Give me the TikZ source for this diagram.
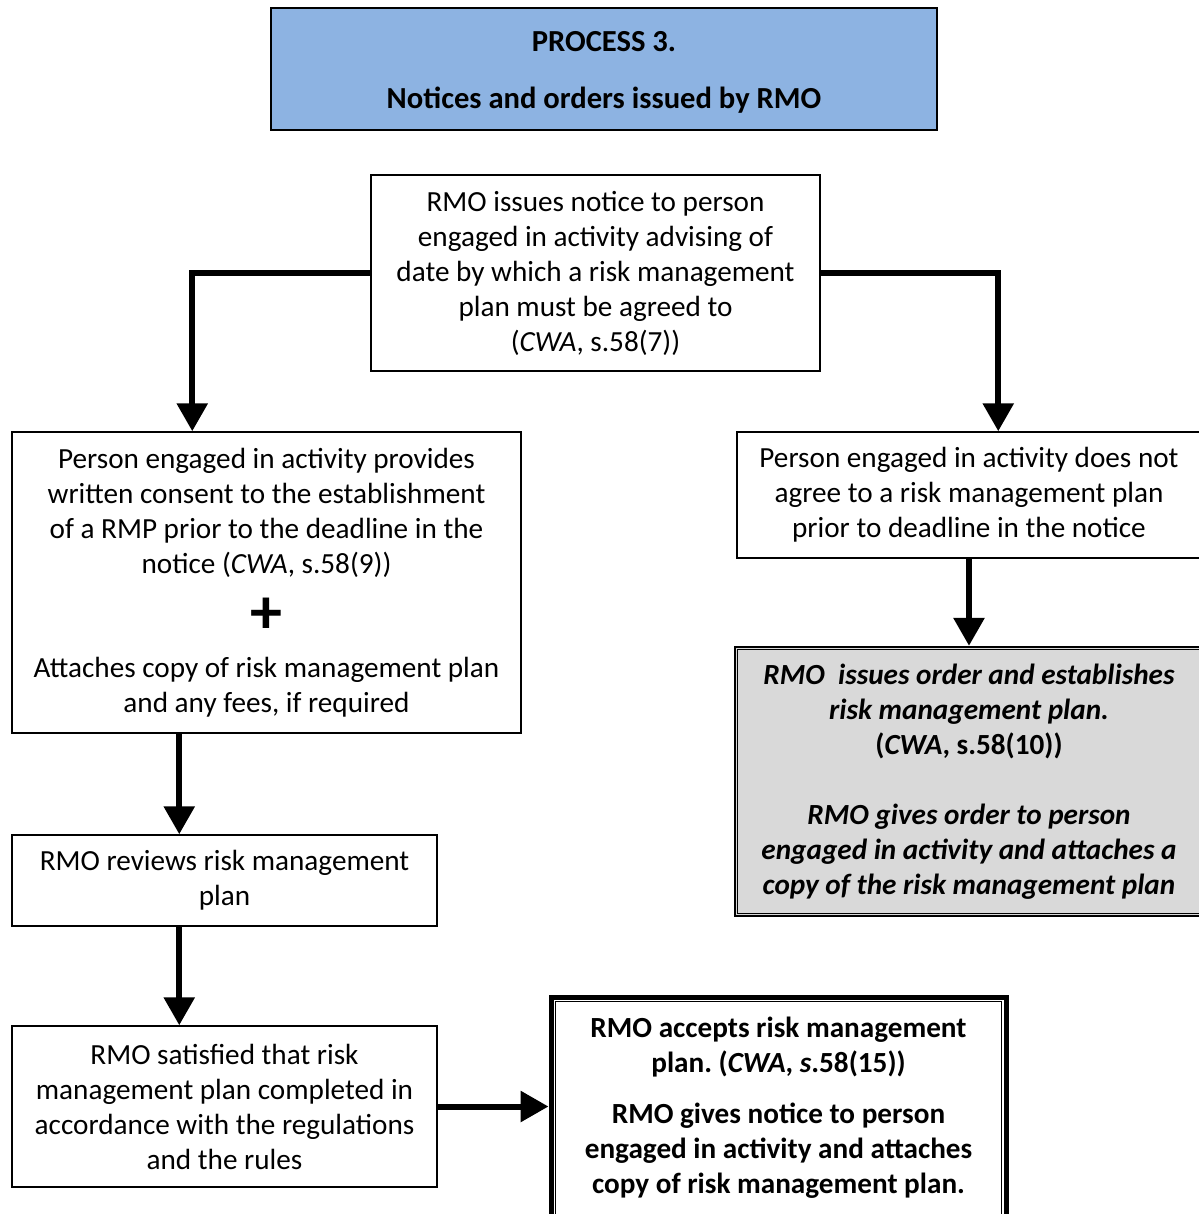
\documentclass[tikz,border=0pt]{standalone}
\usepackage{fontspec}
\setmainfont{Carlito}
\usetikzlibrary{arrows.meta}
\definecolor{titleblue}{HTML}{8DB3E2}
\definecolor{panelgray}{HTML}{D9D9D9}
\frenchspacing

\begin{document}
\begin{tikzpicture}[x=0.5pt,y=-0.5pt,
  box/.style={draw, line width=0.75pt, inner sep=0pt, align=center,
    font=\fontsize{14.6}{17.5}\selectfont},
  flow/.style={line width=3pt, -{Triangle[width=15pt,length=14pt]}},
]
\useasboundingbox (0,0) rectangle (1198,1214);

% heading: frame and its two bold lines
\node[box, fill=titleblue, minimum width=333pt, minimum height=61pt] (title) at (604,69) {};
\node[align=center, inner sep=0pt, font=\fontsize{15.3}{18}\selectfont\bfseries]
  (titletext) at ([yshift=-1.5pt]title.center)
  {PROCESS 3.\\[10.5pt]Notices and orders issued by RMO};

% initial notice
\node[box, minimum width=224.5pt, minimum height=98pt] (notice) at (595.5,273)
  {RMO issues notice to person\\engaged in activity advising of\\date by which a risk management\\plan must be agreed to\\(\textit{CWA}, s.58(7))};

% left branch
\node[box, minimum width=254.5pt, minimum height=150.5pt] (consent) at (266.5,582.5)
  {Person engaged in activity provides\\written consent to the establishment\\of a RMP prior to the deadline in the\\notice (\textit{CWA}, s.58(9))\\[9pt]
   {\fontsize{32}{32}\selectfont\bfseries +}\\[4.5pt]
   Attaches copy of risk management plan\\and any fees, if required};

\node[box, minimum width=212.5pt, minimum height=45.5pt] (review) at (224.5,880.5)
  {RMO reviews risk management\\plan};

\node[box, minimum width=212.5pt, minimum height=80.5pt] (satisfied) at (224.5,1106.5)
  {RMO satisfied that risk\\management plan completed in\\accordance with the regulations\\and the rules};

\node[box, line width=2.5pt, minimum width=227.5pt, minimum height=111pt,
      font=\fontsize{14.6}{17.5}\selectfont\bfseries] (accept) at (778.5,1108)
  {RMO accepts risk management\\plan. (\textit{CWA}, \textit{s}.58(15))\\[8pt]
   RMO gives notice to person\\engaged in activity and attaches\\copy of risk management plan.};
\draw[line width=0.6pt] ([shift={(7,7)}]accept.north west) rectangle ([shift={(-7,-7)}]accept.south east);

% right branch
\node[box, minimum width=232pt, minimum height=63pt] (refuse) at (969,495)
  {Person engaged in activity does not\\agree to a risk management plan\\prior to deadline in the notice};

\node[box, fill=panelgray, line width=1.2pt, minimum width=234pt, minimum height=134.5pt,
      font=\fontsize{14.6}{17.5}\selectfont\bfseries\itshape] (order) at (969,781.5)
  {RMO~ issues order and establishes\\risk management plan.\\{\upshape(}CWA{\upshape, s.58(10))}\\[17.5pt]
   RMO gives order to person\\engaged in activity and attaches a\\copy of the risk management plan};
\draw[line width=0.6pt] ([shift={(4,4)}]order.north west) rectangle ([shift={(-4,-4)}]order.south east);

% connectors
\draw[flow] (notice.west) -| ([xshift=90.5pt]consent.north west);
\draw[flow] (notice.east) -| ([xshift=131pt]refuse.north west);
\draw[flow] (refuse.south) -- (order.north);
\draw[flow] ([xshift=84pt]consent.south west) -- ([xshift=84pt]review.north west);
\draw[flow] ([xshift=84pt]review.south west) -- ([xshift=84pt]satisfied.north west);
\draw[flow] (satisfied.east) -- (satisfied.east -| accept.west);
\end{tikzpicture}
\end{document}
